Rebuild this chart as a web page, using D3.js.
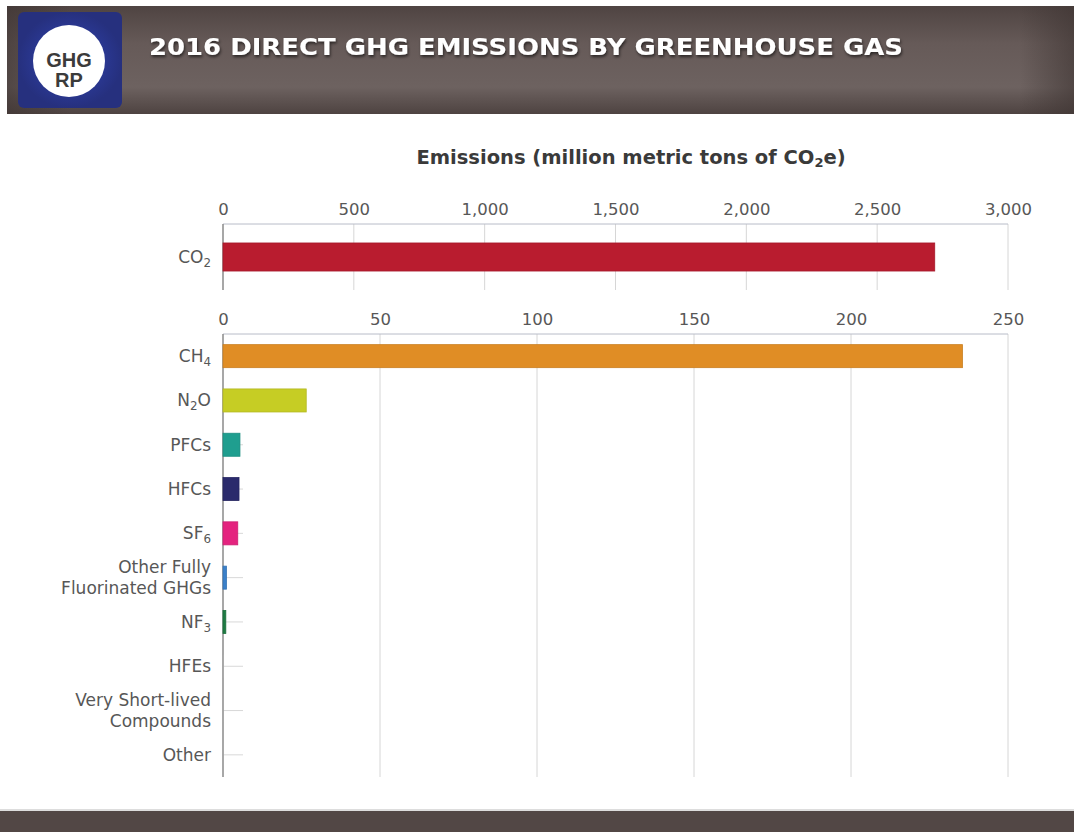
<html>
<head>
<script src="https://d3js.org/d3.v7.min.js"></script>
<style>
body { margin: 0; background: #fff; }
.axis text { fill: #575757; }
.axis path, .axis line { fill: none; }
.grid line { stroke: #d6d6d6; stroke-width: 1; }
</style>
</head>
<body>
<svg width="1074" height="832"></svg>
<script>

// top panel
var topGases = ["CO2"],
    topValues = [2720],
    topColors = ["#b91c2f"],
    topTicks = [0, 500, 1000, 1500, 2000, 2500, 3000];

// lower panel
var gases = ["CH4", "N2O", "PFCs", "HFCs", "SF6", "Other Fully Fluorinated GHGs", "NF3", "HFEs", "Very Short-lived Compounds", "Other"],
    values = [235.5, 26.5, 5.4, 5.1, 4.7, 1.1, 0.9, 0.1, 0.05, 0.05],
    colors = ["#e08d25", "#c6cd24", "#1f9e8f", "#2a2a6c", "#e4237f", "#3b80c9", "#1e7b43", "#bbb", "#bbb", "#bbb"],
    lowTicks = [0, 50, 100, 150, 200, 250];

// label pieces: [text, subscript?]
var labels = {
  "CO2": [["CO", 0], ["2", 1]],
  "CH4": [["CH", 0], ["4", 1]],
  "N2O": [["N", 0], ["2", 1], ["O", 0]],
  "SF6": [["SF", 0], ["6", 1]],
  "NF3": [["NF", 0], ["3", 1]],
  "Other Fully Fluorinated GHGs": ["Other Fully", "Fluorinated GHGs"],
  "Very Short-lived Compounds": ["Very Short-lived", "Compounds"]
};

var FONT = "'DejaVu Sans', sans-serif";

var svg = d3.select("svg");
var defs = svg.append("defs");

// ---- header ----
var hg = defs.append("linearGradient").attr("id", "hdr").attr("x1", 0).attr("x2", 0).attr("y1", 0).attr("y2", 1);
hg.append("stop").attr("offset", "0%").attr("stop-color", "#4f4442");
hg.append("stop").attr("offset", "35%").attr("stop-color", "#665a58");
hg.append("stop").attr("offset", "75%").attr("stop-color", "#6d6260");
hg.append("stop").attr("offset", "100%").attr("stop-color", "#4e4341");
var hs = defs.append("linearGradient").attr("id", "hdrside");
hs.append("stop").attr("offset", "0%").attr("stop-color", "#3e3432").attr("stop-opacity", 0.6);
hs.append("stop").attr("offset", "6%").attr("stop-color", "#3e3432").attr("stop-opacity", 0);
hs.append("stop").attr("offset", "95%").attr("stop-color", "#3e3432").attr("stop-opacity", 0);
hs.append("stop").attr("offset", "100%").attr("stop-color", "#3e3432").attr("stop-opacity", 0.6);
var lg = defs.append("radialGradient").attr("id", "logo");
lg.append("stop").attr("offset", "40%").attr("stop-color", "#2d3da0");
lg.append("stop").attr("offset", "100%").attr("stop-color", "#26307e");
var sh = defs.append("filter").attr("id", "shadow").attr("x", "-5%").attr("y", "-30%").attr("width", "110%").attr("height", "160%");
sh.append("feDropShadow").attr("dx", 1).attr("dy", 2).attr("stdDeviation", 1.5).attr("flood-color", "#000").attr("flood-opacity", 0.6);

svg.append("rect").attr("x", 7).attr("y", 6).attr("width", 1067).attr("height", 108).attr("fill", "url(#hdr)");
svg.append("rect").attr("x", 7).attr("y", 6).attr("width", 1067).attr("height", 108).attr("fill", "url(#hdrside)");
svg.append("rect").attr("x", 18).attr("y", 12).attr("width", 104).attr("height", 96).attr("rx", 6).attr("fill", "url(#logo)");
svg.append("circle").attr("cx", 69).attr("cy", 61).attr("r", 36).attr("fill", "#fff");
svg.append("text").attr("x", 69).attr("y", 67).attr("text-anchor", "middle")
    .style("font", "bold 20px 'Liberation Sans', Arial, sans-serif").attr("fill", "#3b3b3b").text("GHG");
svg.append("text").attr("x", 69).attr("y", 87).attr("text-anchor", "middle")
    .style("font", "bold 20px 'Liberation Sans', Arial, sans-serif").attr("fill", "#3b3b3b").text("RP");
svg.append("text").attr("x", 149).attr("y", 55)
    .style("font", "bold 23px " + FONT).attr("fill", "#fff")
    .attr("textLength", 754).attr("lengthAdjust", "spacingAndGlyphs")
    .attr("filter", "url(#shadow)")
    .text("2016 DIRECT GHG EMISSIONS BY GREENHOUSE GAS");

// footer
svg.append("rect").attr("x", 0).attr("y", 809).attr("width", 1074).attr("height", 2).attr("fill", "#ddd");
svg.append("rect").attr("x", 0).attr("y", 811).attr("width", 1074).attr("height", 21).attr("fill", "#524745");

// ---- axis title ----
var title = svg.append("text").attr("x", 631).attr("y", 164).attr("text-anchor", "middle")
    .style("font", "bold 19.5px " + FONT).attr("fill", "#3a3a3a");
title.append("tspan").text("Emissions (million metric tons of CO");
title.append("tspan").attr("font-size", 13).attr("dy", 3).text("2");
title.append("tspan").attr("dy", -3).text("e)");

function drawLabel(g, name, x, y, font) {
  var pieces = labels[name];
  if (!pieces) {
    g.append("text").attr("x", x).attr("y", y).attr("dy", "0.35em").attr("text-anchor", "end")
      .style("font", font).attr("fill", "#575757").text(name);
  } else if (typeof pieces[0] === "string") {
    pieces.forEach(function(line, i) {
      g.append("text").attr("x", x).attr("y", y + (i - (pieces.length - 1) / 2) * 21).attr("dy", "0.35em")
        .attr("text-anchor", "end").style("font", font).attr("fill", "#575757").text(line);
    });
  } else {
    var t = g.append("text").attr("x", x).attr("y", y).attr("dy", "0.35em").attr("text-anchor", "end")
      .style("font", font).attr("fill", "#575757");
    var sub = false;
    pieces.forEach(function(p) {
      var ts = t.append("tspan").text(p[0]);
      if (p[1] && !sub) { ts.attr("font-size", "0.7em").attr("dy", 4); sub = true; }
      else if (!p[1] && sub) { ts.attr("dy", -4); sub = false; }
    });
  }
}

function panel(cats, vals, cols, ticks, xmax, top, bottom, pi, po, tickFont, labelFont) {
  var x = d3.scaleLinear().domain([0, xmax]).range([223, 1008]);
  var y = d3.scaleBand().domain(cats).range([top, bottom]).paddingInner(pi).paddingOuter(po);
  var g = svg.append("g");

  g.append("g").attr("class", "grid").selectAll("line").data(ticks.slice(1)).enter().append("line")
    .attr("x1", function(d) { return x(d); }).attr("x2", function(d) { return x(d); })
    .attr("y1", top).attr("y2", bottom);

  // inner category ticks
  g.append("g").selectAll("line").data(cats).enter().append("line")
    .attr("x1", x(0)).attr("x2", x(0) + 20)
    .attr("y1", function(d) { return y(d) + y.bandwidth() / 2; })
    .attr("y2", function(d) { return y(d) + y.bandwidth() / 2; })
    .attr("stroke", "#d8d8d8");

  g.append("line").attr("x1", x(0)).attr("x2", x(xmax)).attr("y1", top).attr("y2", top).attr("stroke", "#b8bcc8");
  g.append("line").attr("x1", x(0)).attr("x2", x(0)).attr("y1", top).attr("y2", bottom).attr("stroke", "#8a8a8a").attr("stroke-width", 1.5);

  g.selectAll(".bar").data(cats).enter().append("rect")
    .attr("x", x(0))
    .attr("y", function(d) { return y(d); })
    .attr("width", function(d, i) { return Math.max(0, x(vals[i]) - x(0)); })
    .attr("height", y.bandwidth())
    .attr("fill", function(d, i) { return cols[i]; })
    .attr("stroke", function(d, i) { return d3.color(cols[i]).darker(0.3); })
    .attr("stroke-width", 0.8);

  var ax = g.append("g").attr("class", "axis").attr("transform", "translate(0," + (top - 9) + ")")
    .call(d3.axisTop(x).tickValues(ticks).tickFormat(d3.format(",")).tickSize(0).tickPadding(0));
  ax.select(".domain").remove();
  ax.selectAll("text").style("font", tickFont);

  cats.forEach(function(c) { drawLabel(g, c, 211, y(c) + y.bandwidth() / 2, labelFont); });
}

panel(topGases, topValues, topColors, topTicks, 3000, 224, 290, 0.575, 0.2875,
      "16.5px " + FONT, "17px " + FONT);
panel(gases, values, colors, lowTicks, 250, 334, 777, 0.48, 0.24,
      "16.5px " + FONT, "17px " + FONT);

</script>
</body>
</html>
